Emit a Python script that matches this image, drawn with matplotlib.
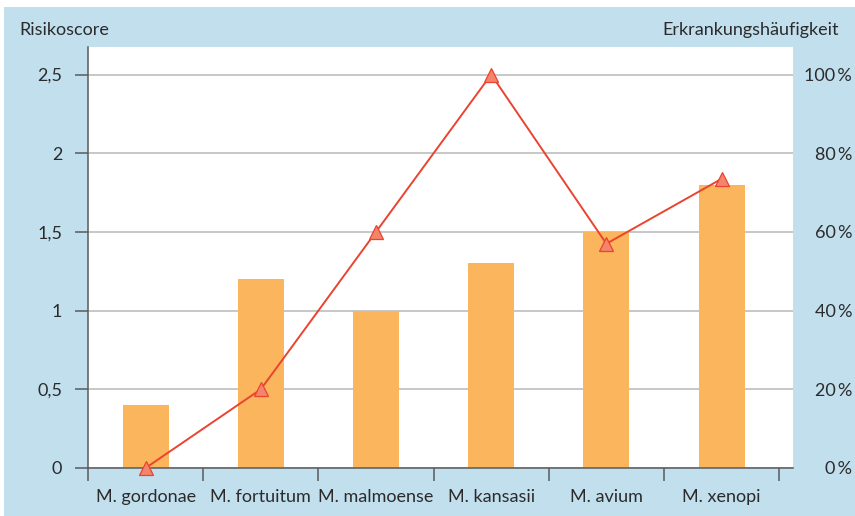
import matplotlib
matplotlib.use("Agg")
import matplotlib.pyplot as plt
from matplotlib.patches import Rectangle
from matplotlib.ticker import FixedLocator, FuncFormatter

plt.rcParams['font.family'] = ['Lato', 'DejaVu Sans']

species = ["M. gordonae", "M. fortuitum", "M. malmoense", "M. kansasii", "M. avium", "M. xenopi"]
risk_score = [0.4, 1.2, 1.0, 1.3, 1.5, 1.8]
frequency_pct = [0, 20, 60, 100, 57, 73.5]
left_ticks = [0, 0.5, 1, 1.5, 2, 2.5]
right_ticks = [0, 20, 40, 60, 80, 100]

BG = "#c2dfee"
BAR = "#fbb55c"
LINE = "#ea4330"
MARK = "#f5846c"
TXT = "#2b2b2b"
AXC = "#5a5a5a"
FS = 13

fig = plt.figure(figsize=(8.55, 5.16), dpi=100, facecolor="white")
fig.patches.append(Rectangle((4 / 855, 0), 1, 509 / 516, transform=fig.transFigure,
                             facecolor=BG, edgecolor="none", zorder=-10))

ax = fig.add_axes([88 / 855, 48 / 516, (793 - 88) / 855, (468 - 47) / 516])
ax.set_facecolor("white")
x = list(range(len(species)))
ax.bar(x, risk_score, width=0.4, color=BAR, zorder=2)

ymax = 2.675
ax.set_ylim(0, ymax)
ax.set_xlim(-0.5, 5.62)
ax.yaxis.set_major_locator(FixedLocator(left_ticks))
ax.yaxis.set_major_formatter(FuncFormatter(lambda v, p: f"{v:g}".replace(".", ",")))
ax.grid(axis="y", color="#b8b8b8", linewidth=1.1, zorder=1)
ax.set_axisbelow(True)

ax.set_xticks(x)
ax.set_xticklabels(species)
ax.set_xticks([i - 0.5 for i in range(len(species) + 1)], minor=True)
ax.tick_params(axis="x", which="major", length=0, pad=15, labelsize=FS, labelcolor=TXT)
ax.tick_params(axis="x", which="minor", length=9.5, width=1.1, color=AXC, direction="out")
ax.tick_params(axis="y", length=9.5, width=1.1, color=AXC, pad=9, labelsize=FS, labelcolor=TXT)

for s in ["top", "right"]:
    ax.spines[s].set_visible(False)
for s in ["left", "bottom"]:
    ax.spines[s].set_color(AXC)
    ax.spines[s].set_linewidth(1.1)
    ax.spines[s].set_zorder(3)

ax2 = ax.twinx()
ax2.set_ylim(0, ymax / 2.5 * 100)
ax2.plot(x, frequency_pct, color=LINE, linewidth=1.4, marker="^", markersize=10,
         markerfacecolor=MARK, markeredgecolor=LINE, markeredgewidth=0.9, zorder=4,
         clip_on=False)
ax2.yaxis.set_major_locator(FixedLocator(right_ticks))
ax2.yaxis.set_major_formatter(FuncFormatter(lambda v, p: f"{v:g}\u2009%"))
ax2.tick_params(axis="y", length=0, pad=42.5, labelsize=FS, labelcolor=TXT)
for t in ax2.yaxis.get_major_ticks():
    t.label2.set_horizontalalignment("right")
for s in ax2.spines.values():
    s.set_visible(False)

fig.text(19 / 855, 1 - 30 / 516, "Risikoscore", fontsize=FS, color=TXT, ha="left", va="center")
fig.text(839 / 855, 1 - 30 / 516, "Erkrankungshäufigkeit", fontsize=FS, color=TXT,
         ha="right", va="center")

fig.savefig("out.png", dpi=100, facecolor="white")
